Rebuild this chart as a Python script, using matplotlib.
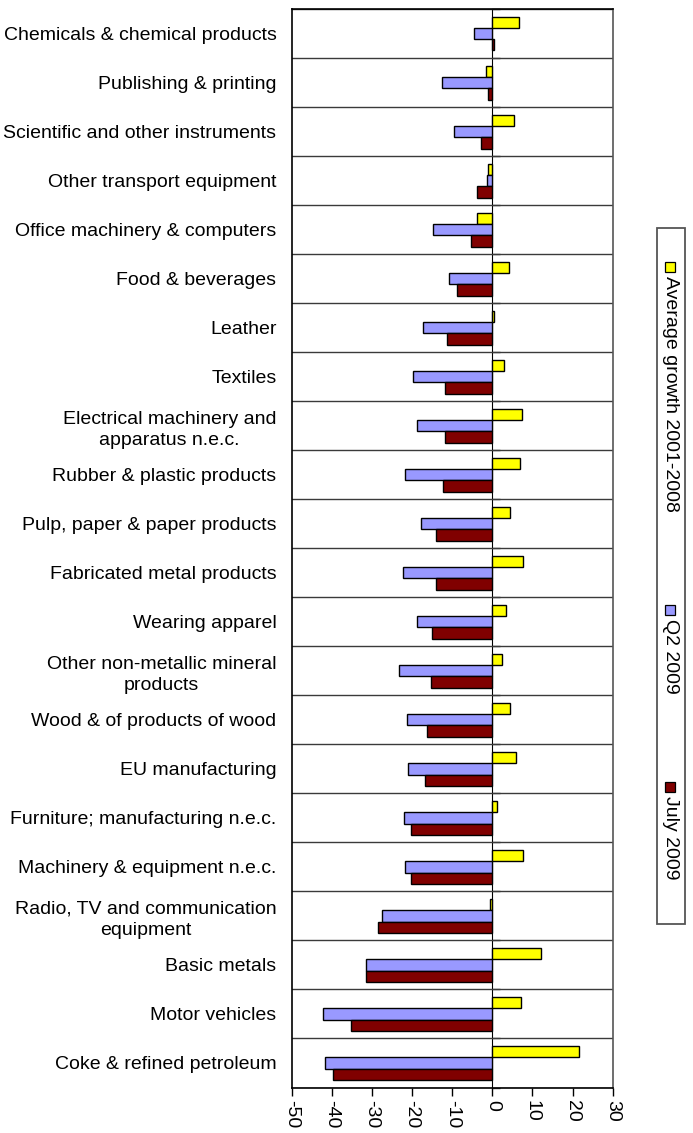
import matplotlib
matplotlib.use("Agg")
import matplotlib.pyplot as plt
from matplotlib.patches import Rectangle
import numpy as np

plt.rcParams['font.family'] = ['Liberation Sans', 'DejaVu Sans']

sectors = [
    "Chemicals & chemical products",
    "Publishing & printing",
    "Scientific and other instruments",
    "Other transport equipment",
    "Office machinery & computers",
    "Food & beverages",
    "Leather",
    "Textiles",
    "Electrical machinery and\napparatus n.e.c.",
    "Rubber & plastic products",
    "Pulp, paper & paper products",
    "Fabricated metal products",
    "Wearing apparel",
    "Other non-metallic mineral\nproducts",
    "Wood & of products of wood",
    "EU manufacturing",
    "Furniture; manufacturing n.e.c.",
    "Machinery & equipment n.e.c.",
    "Radio, TV and communication\nequipment",
    "Basic metals",
    "Motor vehicles",
    "Coke & refined petroleum",
]

avg_growth_2001_2008 = [6.7, -1.6, 5.3, -1.1, -3.7, 4.1, 0.4, 3.0, 7.3, 6.9, 4.5,
                        7.6, 3.3, 2.4, 4.4, 5.8, 1.1, 7.6, -0.6, 12.1, 7.1, 21.7]
q2_2009 = [-4.6, -12.5, -9.5, -1.3, -14.7, -10.9, -17.4, -19.7, -18.8, -21.7, -17.9,
           -22.3, -18.8, -23.2, -21.3, -20.9, -22.1, -21.8, -27.4, -31.5, -42.3, -41.7]
july_2009 = [0.4, -1.0, -2.9, -3.8, -5.2, -8.7, -11.3, -11.7, -11.9, -12.2, -14.0,
             -14.0, -15.1, -15.4, -16.4, -16.9, -20.3, -20.3, -28.5, -31.5, -35.2, -39.6]

series_names = ["Average growth 2001-2008", "Q2 2009", "July 2009"]
series_colors = ["#FFFF00", "#9999FF", "#800000"]
x_ticks = [-50, -40, -30, -20, -10, 0, 10, 20, 30]

W, H = 693, 1133
fig = plt.figure(figsize=(W / 100, H / 100), dpi=100)

ax_left, ax_right, ax_top, ax_bottom = 291.7, 612.7, 9.3, 1087.5
ax = fig.add_axes([ax_left / W, 1 - ax_bottom / H,
                   (ax_right - ax_left) / W, (ax_bottom - ax_top) / H])

n = len(sectors)
pos = np.arange(n)
bh = 0.227
for k, (vals, col) in enumerate(zip([avg_growth_2001_2008, q2_2009, july_2009], series_colors)):
    ax.barh(pos + (k - 1) * bh, vals, height=bh, color=col,
            edgecolor='black', linewidth=1.0, zorder=3)

ax.set_xlim(x_ticks[0], x_ticks[-1])
ax.set_ylim(n - 0.5, -0.5)

ax.set_xticks(x_ticks)
ax.set_xticklabels([str(t) for t in x_ticks], rotation=-90, fontsize=14)
ax.tick_params(axis='x', direction='out', length=6, width=1, pad=3)

ax.set_yticks(pos)
ax.set_yticklabels(sectors, fontsize=14)
for lbl in ax.get_yticklabels():
    lbl.set_multialignment('center')
    lbl.set_linespacing(1.3)
ax.tick_params(axis='y', which='major', length=0, pad=11)

bounds = np.arange(n + 1) - 0.5
ax.set_yticks(bounds, minor=True)
ax.tick_params(axis='y', which='minor', length=0)
ax.grid(True, axis='y', which='minor', color='#3a3a3a', linewidth=1.0, zorder=1)

for side in ['left', 'top', 'bottom']:
    ax.spines[side].set_color('black')
    ax.spines[side].set_linewidth(1.2)
ax.spines['right'].set_color('#555555')
ax.spines['right'].set_linewidth(1.2)

# category axis crossing at zero
zero_loc = (0 - x_ticks[0]) / (x_ticks[-1] - x_ticks[0])
sec = ax.secondary_yaxis(zero_loc)
sec.set_yticks(bounds)
sec.tick_params(axis='y', direction='out', length=6, width=1, labelleft=False,
                color='#333333')
sec.spines['left'].set_color('#808080')
sec.spines['left'].set_linewidth(1.0)
for t in sec.get_yticklabels():
    t.set_visible(False)


def fx(px):
    return px / W


def fy(py):
    return 1 - py / H


# vertical legend box on the right
box_l, box_r, box_t, box_b = 657, 685, 228, 924
fig.patches.append(Rectangle((fx(box_l), fy(box_b)), fx(box_r - box_l), (box_b - box_t) / H,
                             transform=fig.transFigure, facecolor='white',
                             edgecolor='#555555', linewidth=1.3))
entry_tops = [262, 605, 782]
cx = 670
for name, col, top in zip(series_names, series_colors, entry_tops):
    fig.patches.append(Rectangle((fx(cx - 5), fy(top + 10)), fx(10), 10 / H,
                                 transform=fig.transFigure, facecolor=col,
                                 edgecolor='black', linewidth=0.9))
    fig.text(fx(cx), fy(top + 14), name, rotation=-90, ha='center', va='top',
             fontsize=14)

fig.savefig("out.png", dpi=100)
